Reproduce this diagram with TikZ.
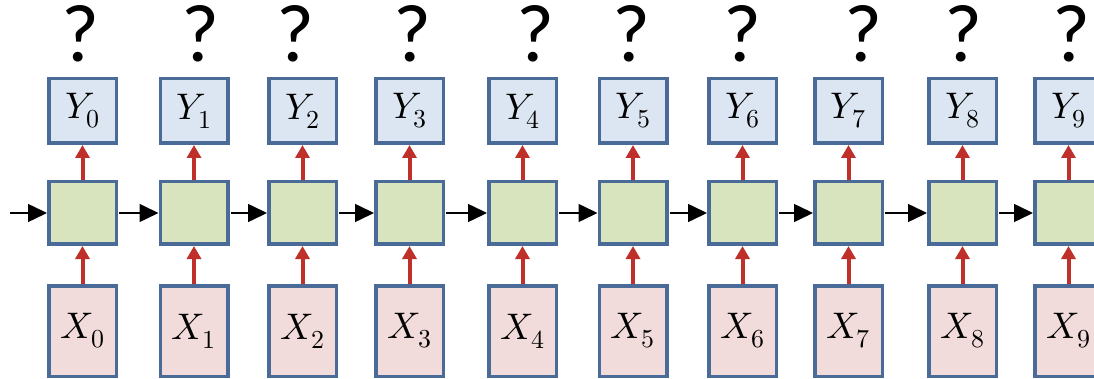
\documentclass[tikz,border=0pt]{standalone}
\usepackage{fontspec}
\usepackage{unicode-math}
\setmathfont{Latin Modern Math}
\newfontfamily\qfont{Carlito}
\usetikzlibrary{arrows.meta}
\definecolor{bord}{HTML}{4A6B98}
\definecolor{yfill}{HTML}{DCE6F2}
\definecolor{gfill}{HTML}{D7E4BD}
\definecolor{xfill}{HTML}{F2DCDB}
\definecolor{redarr}{HTML}{C0302A}
\tikzset{
  ybox/.style={draw=bord, fill=yfill, line width=3.5pt, minimum width=67.5pt, minimum height=64.5pt, inner sep=0pt, font=\fontsize{37}{40}\selectfont},
  gbox/.style={draw=bord, fill=gfill, line width=3.5pt, minimum width=67.5pt, minimum height=62.5pt, inner sep=0pt},
  xbox/.style={draw=bord, fill=xfill, line width=3.5pt, minimum width=67.5pt, minimum height=90.5pt, inner sep=0pt, font=\fontsize{37}{40}\selectfont},
  qmark/.style={inner sep=0pt, font=\qfont\fontsize{82}{84}\selectfont},
  redup/.style={draw=redarr, line width=4pt, -{Triangle[length=13pt,width=14pt]}},
  blackright/.style={draw=black, line width=1.5pt, -{Triangle[length=19pt,width=18pt]}}
}
\begin{document}
\begin{tikzpicture}[x=1pt,y=-1pt]
\useasboundingbox (0,0) rectangle (1094,379);
\def\cols{0/82.5/80,1/194/200,2/302.5/295,3/409.5/412,4/522.5/535,5/633/631,6/742.5/742,7/848.5/863,8/962.5/963,9/1068.5/1071}
\foreach \i/\x/\q in \cols {
  \node[ybox] (y\i) at (\x,111) {$Y_{\i}$};
  \node[gbox] (g\i) at (\x,213) {};
  \node[xbox] (x\i) at (\x,331) {$X_{\i}$};
  \node[qmark] (q\i) at (\q,34) {?};
  \draw[redup] (g\i.north) -- (y\i.south);
  \draw[redup] (x\i.north) -- (g\i.south);
}
\coordinate (start) at (10,213);
\draw[blackright] (start) -- (g0.west);
\foreach \i [remember=\i as \j (initially 0)] in {1,...,9} {
  \draw[blackright] ([xshift=1pt]g\j.east) -- (g\i.west);
}
\end{tikzpicture}
\end{document}
